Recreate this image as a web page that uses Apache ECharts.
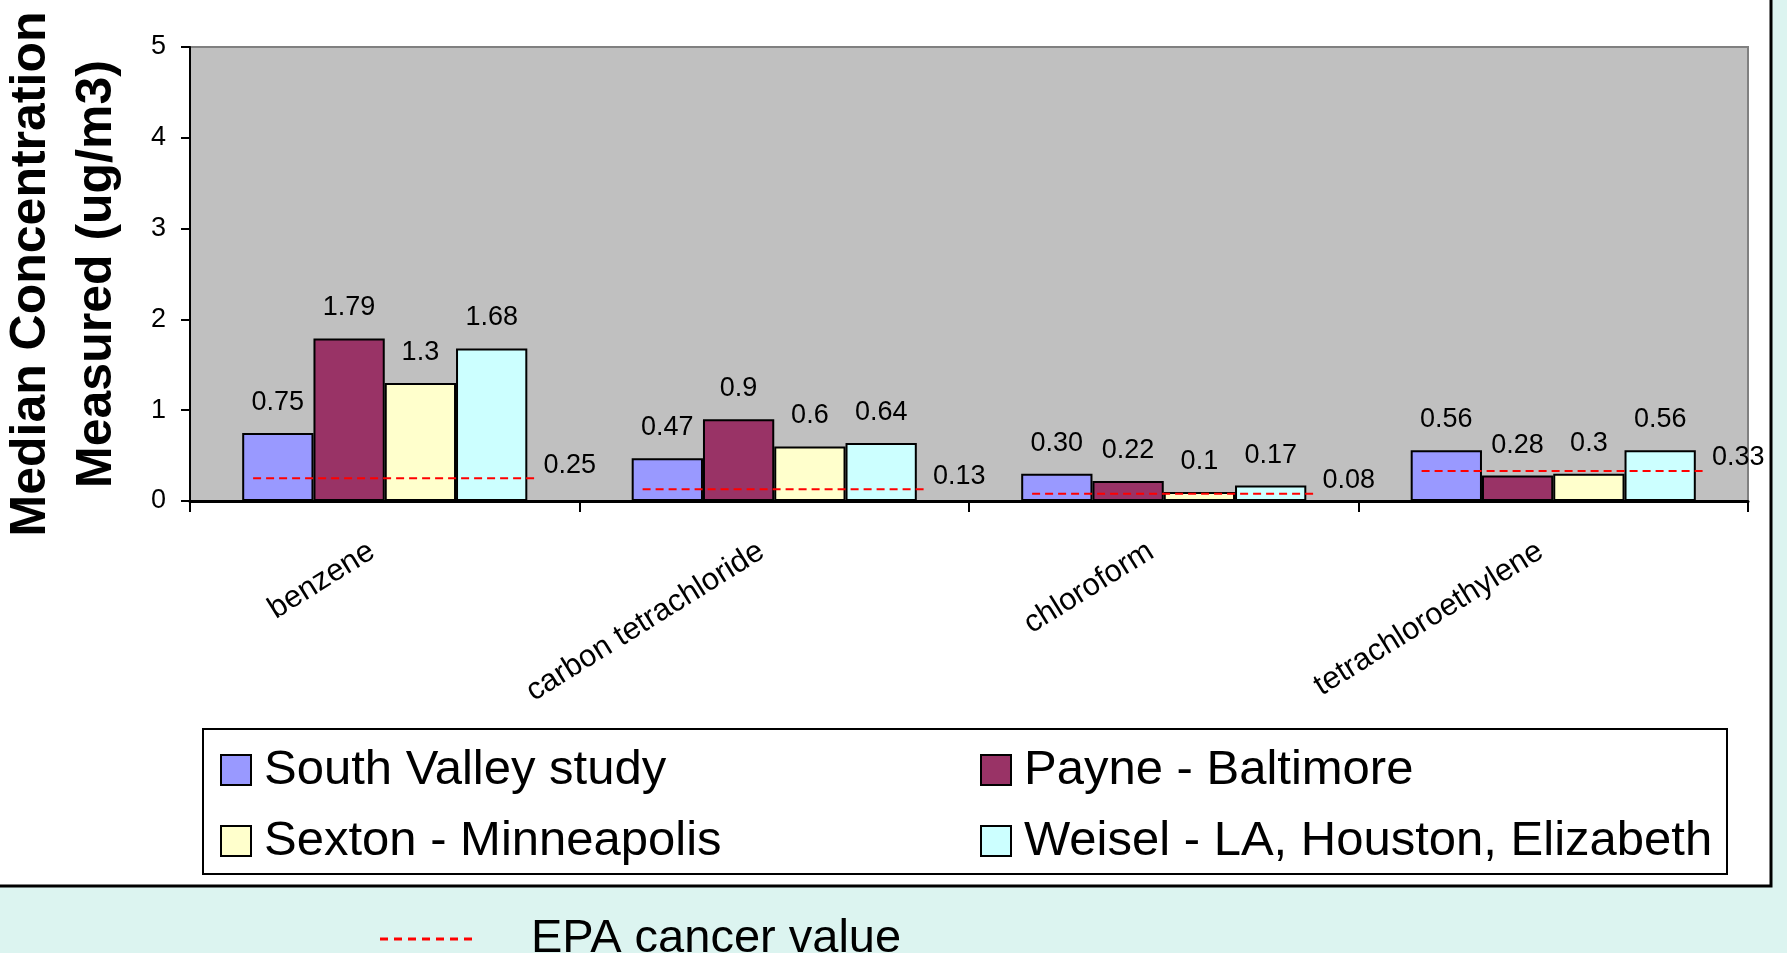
<!DOCTYPE html>
<html>
<head>
<meta charset="utf-8">
<title>Median Concentration Measured</title>
<script src="https://cdn.jsdelivr.net/npm/echarts@6/dist/echarts.min.js"></script>
<style>
  html, body { margin: 0; padding: 0; background: #dcf4f0; }
  #chart { width: 1787px; height: 953px; }
</style>
</head>
<body>
<div id="chart"></div>
<script>
// Compounds on the category axis
const categories = ['benzene', 'carbon tetrachloride', 'chloroform', 'tetrachloroethylene'];

// Median concentrations (ug/m3) per study
const southValley = [0.75, 0.47, 0.30, 0.56];
const payneBaltimore = [1.79, 0.9, 0.22, 0.28];
const sextonMinneapolis = [1.3, 0.6, 0.1, 0.3];
const weiselCities = [1.68, 0.64, 0.17, 0.56];

// EPA cancer reference value per compound
const epaCancer = [0.25, 0.13, 0.08, 0.33];

// Y axis range and step
const yMin = 0, yMax = 5, yStep = 1;

const FONT = "'Liberation Sans', Arial, sans-serif";

function barSeries(name, values, color, fmt) {
  return {
    name: name,
    type: 'bar',
    data: values,
    barGap: '0%',
    barCategoryGap: '26.8%',
    itemStyle: { color: color, borderColor: '#000', borderWidth: 2 },
    label: {
      show: true,
      position: 'top',
      distance: 17,
      color: '#000',
      fontFamily: FONT,
      fontSize: 27,
      formatter: p => fmt(p.value)
    }
  };
}

const chart = echarts.init(document.getElementById('chart'));

const dashIcon = 'path://M0,0h8v3h-8zM14,0h8v3h-8zM28,0h8v3h-8zM42,0h8v3h-8zM56,0h8v3h-8zM70,0h8v3h-8zM84,0h8v3h-8z';

const legendText = { fontFamily: FONT, fontSize: 49, color: '#000', lineHeight: 50, padding: [0, 0, 0, 8] };

chart.setOption({
  backgroundColor: '#dcf4f0',
  animation: false,
  graphic: [
    // white chart page with its dark frame
    {
      type: 'rect', z: -10, silent: true,
      shape: { x: -10, y: -10, width: 1781, height: 896 },
      style: { fill: '#ffffff', stroke: '#000', lineWidth: 3 }
    },
    // box around the series legend
    {
      type: 'rect', z: 1, silent: true,
      shape: { x: 203, y: 729, width: 1524, height: 145 },
      style: { fill: '#ffffff', stroke: '#000', lineWidth: 2 }
    }
  ],
  grid: {
    left: 190, right: 39, top: 47, bottom: 452,
    containLabel: false,
    outerBoundsMode: 'none',
    show: true,
    backgroundColor: '#c0c0c0',
    borderColor: '#808080',
    borderWidth: 2
  },
  legend: [
    {
      data: ['South Valley study', 'Sexton - Minneapolis'],
      orient: 'vertical',
      left: 215, top: 740,
      itemWidth: 30, itemHeight: 30, itemGap: 21,
      icon: 'rect',
      textStyle: legendText,
      z: 5
    },
    {
      data: ['Payne - Baltimore', 'Weisel - LA, Houston, Elizabeth'],
      orient: 'vertical',
      left: 975, top: 740,
      itemWidth: 30, itemHeight: 30, itemGap: 21,
      icon: 'rect',
      textStyle: legendText,
      z: 5
    },
    {
      data: [{ name: 'EPA cancer value', icon: dashIcon }],
      left: 375, top: 910,
      itemWidth: 92, itemHeight: 3,
      symbolKeepAspect: false,
      textStyle: { fontFamily: FONT, fontSize: 47, color: '#000', lineHeight: 48, padding: [0, 0, 0, 54] }
    }
  ],
  xAxis: {
    type: 'category',
    data: categories,
    axisLine: { show: true, lineStyle: { color: '#000', width: 3 } },
    axisTick: { show: true, length: 11, lineStyle: { color: '#000', width: 2 } },
    axisLabel: {
      interval: 0,
      rotate: 32,
      margin: 40,
      padding: [0, 15, 0, 0],
      color: '#000',
      fontFamily: FONT,
      fontSize: 31
    },
    splitLine: { show: false }
  },
  yAxis: {
    type: 'value',
    min: yMin, max: yMax, interval: yStep,
    name: 'Median Concentration\nMeasured (ug/m3)',
    nameLocation: 'middle',
    nameRotate: 90,
    nameGap: 60,
    nameTextStyle: {
      fontFamily: FONT, fontSize: 50, fontWeight: 'bold', color: '#000', lineHeight: 66
    },
    axisLine: { show: true, lineStyle: { color: '#000', width: 2 } },
    axisTick: { show: true, length: 9, lineStyle: { color: '#000', width: 2 } },
    axisLabel: { color: '#000', fontFamily: FONT, fontSize: 27, margin: 24 },
    splitLine: { show: false }
  },
  series: [
    barSeries('South Valley study', southValley, '#9999ff', v => v.toFixed(2)),
    barSeries('Payne - Baltimore', payneBaltimore, '#993366', v => String(v)),
    barSeries('Sexton - Minneapolis', sextonMinneapolis, '#ffffcc', v => String(v)),
    barSeries('Weisel - LA, Houston, Elizabeth', weiselCities, '#ccffff', v => String(v)),
    {
      // dashed EPA reference segment across each compound group, with its value
      name: 'EPA cancer value',
      type: 'custom',
      itemStyle: { color: '#ff0000' },
      data: epaCancer.map((v, i) => [i, v]),
      z: 3,
      renderItem: function (params, api) {
        const pt = api.coord([api.value(0), api.value(1)]);
        const band = api.size([1, 0])[0];
        return {
          type: 'group',
          children: [
            {
              type: 'line',
              shape: { x1: pt[0] - 0.338 * band, y1: pt[1], x2: pt[0] + 0.389 * band, y2: pt[1] },
              style: { stroke: '#ff0000', lineWidth: 2, lineDash: [8, 5] }
            },
            {
              type: 'text',
              x: pt[0] + 0.475 * band,
              y: pt[1] - 13,
              style: {
                text: String(api.value(1)),
                fill: '#000',
                font: '27px ' + FONT,
                align: 'center',
                verticalAlign: 'middle'
              }
            }
          ]
        };
      }
    }
  ]
});
</script>
</body>
</html>
